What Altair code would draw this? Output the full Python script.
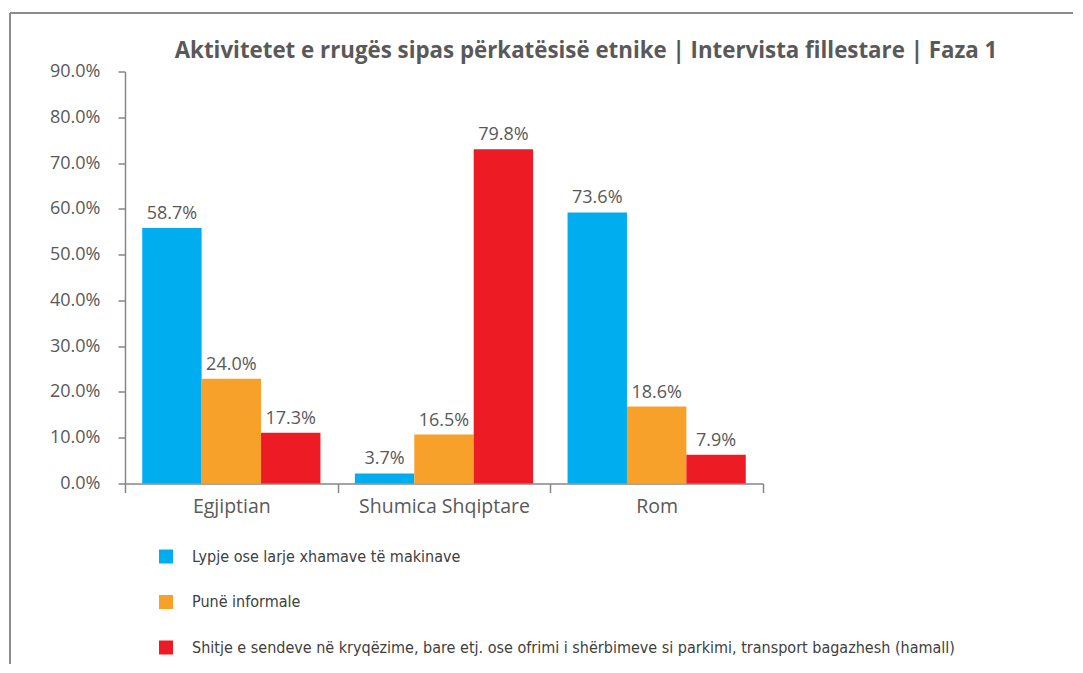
import altair as alt
import pandas as pd

groups = ["Egjiptian", "Shumica Shqiptare", "Rom"]
activities = [
    "Lypje ose larje xhamave të makinave",
    "Punë informale",
    "Shitje e sendeve në kryqëzime, bare etj. ose ofrimi i shërbimeve si parkimi, transport bagazhesh (hamall)",
]
colors = ["#00AEEF", "#F7A12B", "#ED1C24"]

# bar heights as drawn in the reference (share of respondents)
bar_lypje = [0.558, 0.022, 0.592]
bar_pune = [0.229, 0.107, 0.168]
bar_shitje = [0.111, 0.730, 0.063]

# data labels as printed above the bars
lbl_lypje = ["58.7%", "3.7%", "73.6%"]
lbl_pune = ["24.0%", "16.5%", "18.6%"]
lbl_shitje = ["17.3%", "79.8%", "7.9%"]

y_ticks = [0.0, 0.1, 0.2, 0.3, 0.4, 0.5, 0.6, 0.7, 0.8, 0.9]

title_text = "Aktivitetet e rrugës sipas përkatësisë etnike | Intervista fillestare | Faza 1"

rows = []
for act, vals, lbls in zip(activities, [bar_lypje, bar_pune, bar_shitje], [lbl_lypje, lbl_pune, lbl_shitje]):
    for g, v, l in zip(groups, vals, lbls):
        rows.append({"group": g, "activity": act, "value": v, "label": l})
df = pd.DataFrame(rows)

FONT = "Open Sans"
LEGEND_FONT = "Liberation Sans Narrow, DejaVu Sans Condensed, sans-serif"

base = alt.Chart(df).encode(
    x=alt.X(
        "group:N",
        sort=groups,
        scale=alt.Scale(paddingInner=0, paddingOuter=0),
        axis=alt.Axis(
            title=None,
            labelAngle=0,
            tickBand="extent",
            tickSize=9,
            labelPadding=5,
            labelFontSize=19.5,
            labelColor="#595959",
            labelFont=FONT,
            domainColor="#868686",
            tickColor="#868686",
            domainWidth=1.5,
            tickWidth=1.5,
        ),
    ),
    xOffset=alt.XOffset(
        "activity:N",
        sort=activities,
        scale=alt.Scale(paddingInner=0, paddingOuter=0.29),
    ),
)

bars = base.mark_bar().encode(
    y=alt.Y(
        "value:Q",
        scale=alt.Scale(domain=[0, 0.9], nice=False),
        axis=alt.Axis(
            title=None,
            format=".1%",
            values=y_ticks,
            grid=False,
            tickSize=7,
            labelPadding=18,
            labelFontSize=18,
            labelColor="#595959",
            labelFont=FONT,
            domainColor="#868686",
            tickColor="#868686",
            domainWidth=1.5,
            tickWidth=1.5,
        ),
    ),
    color=alt.Color(
        "activity:N",
        sort=activities,
        scale=alt.Scale(domain=activities, range=colors),
        legend=alt.Legend(
            title=None,
            orient="none",
            legendX=33,
            legendY=477,
            direction="vertical",
            symbolType="square",
            symbolSize=196,
            symbolStrokeWidth=0,
            symbolOpacity=1,
            labelFontSize=16,
            labelFont=LEGEND_FONT,
            labelColor="#404040",
            labelLimit=1000,
            labelOffset=18,
            rowPadding=29.5,
        ),
    ),
)

labels = base.mark_text(
    dy=-9, baseline="alphabetic", fontSize=18, font=FONT, color="#595959"
).encode(y=alt.Y("value:Q"), text="label:N")

frame_df = pd.DataFrame({"k": [0]})
top_line = alt.Chart(frame_df).mark_rule(color="#8c8c8c", strokeWidth=2).encode(
    x=alt.value(-115), x2=alt.value(1000), y=alt.value(-58.5)
)
left_line = alt.Chart(frame_df).mark_rule(color="#8c8c8c", strokeWidth=2).encode(
    x=alt.value(-115), y=alt.value(-58.5), y2=alt.value(700)
)

chart = (
    alt.layer(top_line, left_line, bars, labels)
    .properties(
        width=638,
        height=412,
        padding={"left": 117, "top": 63.5, "right": 310, "bottom": 180},
        autosize=alt.AutoSizeParams(type="none"),
        title=alt.TitleParams(
            title_text,
            anchor="middle",
            frame="group",
            baseline="alphabetic",
            dx=142,
            dy=68,
            offset=0,
            fontSize=22.3,
            font=FONT,
            fontWeight="bold",
            color="#595959",
        ),
    )
    .configure_view(stroke=None)
)

chart.save("out.html", embed_options={"renderer": "svg", "actions": False})
